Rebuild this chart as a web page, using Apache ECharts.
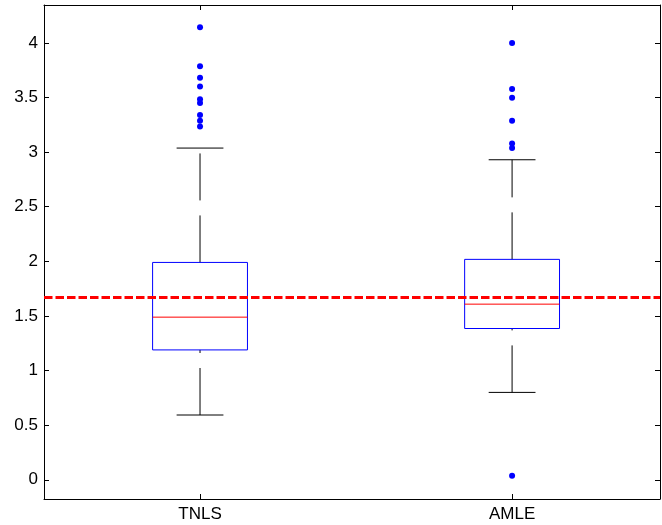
<!DOCTYPE html>
<html>
<head>
<meta charset="utf-8">
<script src="https://cdn.jsdelivr.net/npm/echarts@6/dist/echarts.min.js"></script>
<style>
  html, body { margin: 0; padding: 0; background: #fff; }
  #main { width: 662px; height: 525px; }
</style>
</head>
<body>
<div id="main"></div>
<script>
// categories and box statistics
var categories = ["TNLS", "AMLE"];
// [low whisker, q1, median, q3, high whisker]
var tnlsBox = [0.593, 1.189, 1.489, 1.99, 3.037];
var amleBox = [0.80, 1.385, 1.608, 2.018, 2.93];
var tnlsOutliers = [4.143, 3.786, 3.68, 3.60, 3.483, 3.45, 3.34, 3.287, 3.235];
var amleOutliers = [4.0, 3.578, 3.498, 3.287, 3.079, 3.037, 0.037];
var refValue = 1.672;
var yTicks = [0, 0.5, 1, 1.5, 2, 2.5, 3, 3.5, 4];

var FONT = "Liberation Sans, Arial, Helvetica, sans-serif";

var boxData = [[1].concat(tnlsBox), [2].concat(amleBox)];
var outlierData = [];
tnlsOutliers.forEach(function (v) { outlierData.push([1, v]); });
amleOutliers.forEach(function (v) { outlierData.push([2, v]); });

// 画一个MATLAB风格的箱线图
function renderBox(params, api) {
  var x = api.value(0);
  var low = api.value(1), q1 = api.value(2), med = api.value(3), q3 = api.value(4), high = api.value(5);
  var halfW = 0.152, capW = 0.075;
  var pL = api.coord([x - halfW, q3]);
  var pR = api.coord([x + halfW, q1]);
  var pc = function (v) { return api.coord([x, v]); };
  var cL = api.coord([x - capW, 0])[0];
  var cR = api.coord([x + capW, 0])[0];
  var cx = pc(0)[0];
  var yLow = pc(low)[1], yQ1 = pc(q1)[1], yMed = pc(med)[1], yQ3 = pc(q3)[1], yHigh = pc(high)[1];
  var whisker = { stroke: "#000", lineWidth: 1, lineDash: [47, 15] };
  return {
    type: "group",
    children: [
      { type: "line", shape: { x1: cx, y1: yQ3, x2: cx, y2: yHigh }, style: whisker },
      { type: "line", shape: { x1: cx, y1: yLow, x2: cx, y2: yQ1 }, style: whisker },
      { type: "line", shape: { x1: cL, y1: yHigh, x2: cR, y2: yHigh }, style: { stroke: "#000", lineWidth: 1 } },
      { type: "line", shape: { x1: cL, y1: yLow, x2: cR, y2: yLow }, style: { stroke: "#000", lineWidth: 1 } },
      { type: "rect", shape: { x: pL[0], y: yQ3, width: pR[0] - pL[0], height: yQ1 - yQ3 },
        style: { fill: "none", stroke: "#0000ff", lineWidth: 1 } },
      { type: "line", shape: { x1: pL[0], y1: yMed, x2: pR[0], y2: yMed }, style: { stroke: "#ff0000", lineWidth: 1 } }
    ]
  };
}

var myChart = echarts.init(document.getElementById("main"));
var xBase = {
  type: "value", min: 0.5, max: 2.474,
  axisLine: { show: true, onZero: false, lineStyle: { color: "#000", width: 1 } },
  splitLine: { show: false }
};
var yBase = {
  type: "value", min: -0.176, max: 4.347,
  axisLine: { show: true, onZero: false, lineStyle: { color: "#000", width: 1 } },
  splitLine: { show: false }
};
var option = {
  animation: false,
  backgroundColor: "#fff",
  grid: { left: 44, right: 2, top: 5, bottom: 26 },
  xAxis: [
    Object.assign({}, xBase, {
      position: "bottom",
      axisTick: { show: true, inside: true, length: 5, lineStyle: { color: "#000" }, customValues: [1, 2] },
      axisLabel: {
        show: true, customValues: [1, 2], margin: 7, color: "#000", fontSize: 17, fontFamily: FONT,
        formatter: function (v) { return categories[Math.round(v) - 1]; }
      }
    }),
    Object.assign({}, xBase, {
      position: "top",
      axisTick: { show: true, inside: true, length: 5, lineStyle: { color: "#000" }, customValues: [1, 2] },
      axisLabel: { show: false }
    })
  ],
  yAxis: [
    Object.assign({}, yBase, {
      position: "left",
      axisTick: { show: true, inside: true, length: 5, lineStyle: { color: "#000" }, customValues: yTicks },
      axisLabel: {
        show: true, customValues: yTicks, margin: 6, color: "#000", fontSize: 17, fontFamily: FONT,
        formatter: function (v) { return String(v); }
      }
    }),
    Object.assign({}, yBase, {
      position: "right",
      axisTick: { show: true, inside: true, length: 5, lineStyle: { color: "#000" }, customValues: yTicks },
      axisLabel: { show: false }
    })
  ],
  series: [
    {
      type: "custom",
      xAxisIndex: 0, yAxisIndex: 0,
      renderItem: renderBox,
      encode: { x: 0, y: [1, 2, 3, 4, 5] },
      data: boxData,
      silent: true
    },
    {
      type: "scatter",
      xAxisIndex: 0, yAxisIndex: 0,
      symbolSize: 6,
      itemStyle: { color: "#0000ff", opacity: 1 },
      data: outlierData,
      silent: true,
      markLine: {
        silent: true,
        symbol: ["none", "none"],
        label: { show: false },
        lineStyle: { color: "#ff0000", width: 3, type: [8.5, 3], opacity: 1 },
        data: [{ yAxis: refValue }]
      }
    }
  ]
};
option && myChart.setOption(option);
</script>
</body>
</html>
